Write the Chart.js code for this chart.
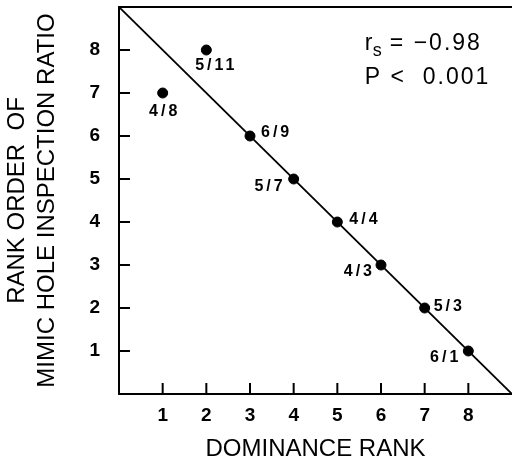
<!DOCTYPE html>
<html>
<head>
<meta charset="utf-8">
<script src="https://cdn.jsdelivr.net/npm/chart.js@4.4.0/dist/chart.umd.min.js"></script>
<style>
  body { margin: 0; background: #fff; }
  canvas { display: block; }
</style>
</head>
<body>
<canvas id="rankChart" width="512" height="468"></canvas>
<script>
// values
const dominanceRank = [1, 2, 3, 4, 5, 6, 7, 8];
const inspectionRank = [7, 8, 6, 5, 4, 3, 2, 1];
const pointLabels = ['4/8', '5/11', '6/9', '5/7', '4/4', '4/3', '5/3', '6/1'];
const fitX = [0, 9];
const fitY = [9, 0];
const xTicks = [1, 2, 3, 4, 5, 6, 7, 8];
const yTicks = [1, 2, 3, 4, 5, 6, 7, 8];
const rsText = '= \u22120.98';
const pText = 'P <  0.001';

// where each point label sits relative to its dot: [dx, dy, align]
const labelPlace = [
  [2, 19, 'center'],
  [10, 16, 'center'],
  [11, -3, 'left'],
  [-8, 8, 'right'],
  [12, -2, 'left'],
  [-6, 7, 'right'],
  [9, -1, 'left'],
  [-7, 7, 'right']
];

const FONT = "'Liberation Sans', Arial, Helvetica, sans-serif";

const decorations = {
  id: 'decorations',
  afterDatasetsDraw(chart) {
    const {ctx, chartArea, scales: {x, y}} = chart;
    ctx.save();
    ctx.strokeStyle = '#000';
    ctx.fillStyle = '#000';
    ctx.lineWidth = 2;

    // tick marks point inward
    xTicks.forEach(v => {
      const px = x.getPixelForValue(v);
      ctx.beginPath();
      ctx.moveTo(px, chartArea.bottom);
      ctx.lineTo(px, chartArea.bottom - 11);
      ctx.stroke();
    });
    yTicks.forEach(v => {
      const py = y.getPixelForValue(v);
      ctx.beginPath();
      ctx.moveTo(chartArea.left, py);
      ctx.lineTo(chartArea.left + 11, py);
      ctx.stroke();
    });

    // point labels
    ctx.font = 'bold 16px ' + FONT;
    ctx.letterSpacing = '3px';
    ctx.textBaseline = 'middle';
    pointLabels.forEach((t, i) => {
      const [dx, dy, align] = labelPlace[i];
      ctx.textAlign = align;
      ctx.fillText(t, x.getPixelForValue(dominanceRank[i]) + dx, y.getPixelForValue(inspectionRank[i]) + dy);
    });

    // statistics
    ctx.letterSpacing = '2px';
    ctx.textAlign = 'left';
    ctx.textBaseline = 'alphabetic';
    const sx = x.getPixelForValue(5.63);
    const b1 = y.getPixelForValue(8.0);
    const b2 = y.getPixelForValue(7.2);
    ctx.font = '23px ' + FONT;
    ctx.fillText('r', sx, b1);
    ctx.font = '18px ' + FONT;
    ctx.fillText('s', sx + 8, b1 + 6);
    ctx.font = '23px ' + FONT;
    ctx.fillText(rsText, sx + 25, b1);
    ctx.fillText(pText, sx, b2);
    ctx.restore();
  }
};

const rankChart = new Chart(document.getElementById('rankChart'), {
  type: 'scatter',
  data: {
    datasets: [{
      label: 'Ranks',
      data: dominanceRank.map((v, i) => ({x: v, y: inspectionRank[i]})),
      backgroundColor: '#000',
      borderColor: '#000',
      pointRadius: 5
    }, {
      type: 'line',
      label: 'Fit',
      data: fitX.map((v, i) => ({x: v, y: fitY[i]})),
      borderColor: '#000',
      borderWidth: 1.8,
      pointRadius: 0,
      fill: false
    }]
  },
  options: {
    responsive: false,
    animation: false,
    devicePixelRatio: 1,
    layout: { padding: 0, autoPadding: false },
    plugins: {
      legend: { display: false },
      tooltip: { enabled: false }
    },
    scales: {
      x: {
        type: 'linear',
        min: 0,
        max: 9,
        afterBuildTicks: s => { s.ticks = xTicks.map(v => ({value: v})); },
        afterFit: s => { s.height = 74; s.paddingLeft = 0; s.paddingRight = 0; },
        ticks: {
          padding: 10,
          color: '#000',
          font: { size: 19, weight: 'bold', family: FONT }
        },
        grid: { drawOnChartArea: false, drawTicks: false },
        border: { color: '#000', width: 2 },
        title: {
          display: true,
          text: 'DOMINANCE RANK',
          color: '#000',
          font: { size: 24, family: FONT, lineHeight: 1.2 },
          padding: { top: 0, bottom: 4 }
        }
      },
      xTop: {
        type: 'linear',
        position: 'top',
        min: 0,
        max: 9,
        afterFit: s => { s.height = 7; s.paddingLeft = 0; s.paddingRight = 0; },
        ticks: { display: false },
        grid: { drawOnChartArea: false, drawTicks: false },
        border: { color: '#000', width: 2 }
      },
      y: {
        min: 0,
        max: 9,
        afterBuildTicks: s => { s.ticks = yTicks.map(v => ({value: v})); },
        afterFit: s => { s.width = 119; s.paddingTop = 0; s.paddingBottom = 0; },
        ticks: {
          padding: 19,
          color: '#000',
          font: { size: 19, weight: 'bold', family: FONT }
        },
        grid: { drawOnChartArea: false, drawTicks: false },
        border: { color: '#000', width: 2 },
        title: {
          display: true,
          text: ['RANK ORDER  OF', 'MIMIC HOLE INSPECTION RATIO'],
          color: '#000',
          font: { size: 24, family: FONT, lineHeight: 1.25 },
          padding: { top: 2, bottom: 0 }
        }
      }
    }
  },
  plugins: [decorations]
});
</script>
</body>
</html>
